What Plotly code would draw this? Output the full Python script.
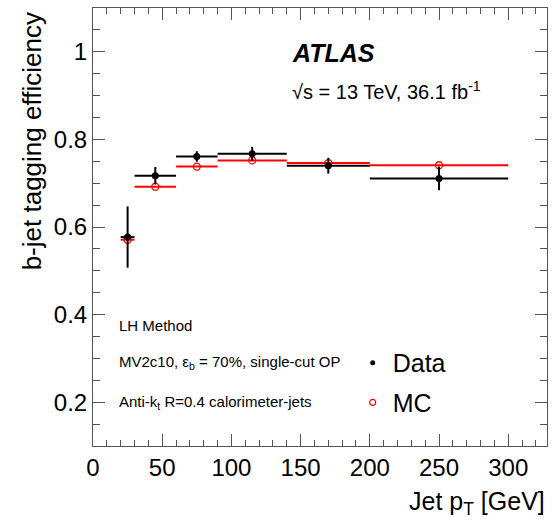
import plotly.graph_objects as go

# ---- data ----
bin_low = [20, 30, 60, 90, 140, 200]
bin_high = [30, 60, 90, 140, 200, 300]
data_eff = [0.577, 0.717, 0.761, 0.767, 0.740, 0.711]
data_err = [0.070, 0.020, 0.012, 0.016, 0.018, 0.027]
mc_eff = [0.571, 0.692, 0.738, 0.752, 0.746, 0.741]

x_ticks = [0, 50, 100, 150, 200, 250, 300]
y_ticks = [0.2, 0.4, 0.6, 0.8, 1.0]

centers = [(a + b) / 2 for a, b in zip(bin_low, bin_high)]
halfw = [(b - a) / 2 for a, b in zip(bin_low, bin_high)]

FONT = "Liberation Sans, Arial, Helvetica, sans-serif"

fig = go.Figure()

# MC
fig.add_trace(go.Scatter(
    x=centers, y=mc_eff, mode="markers", showlegend=False,
    marker=dict(symbol="circle-open", size=7, color="#ff0000", line=dict(width=1.3, color="#ff0000")),
    error_x=dict(type="data", array=halfw, thickness=2, width=0, color="#ff0000"),
))
# Data
fig.add_trace(go.Scatter(
    x=centers, y=data_eff, mode="markers", showlegend=False,
    marker=dict(symbol="circle", size=7, color="black"),
    error_x=dict(type="data", array=halfw, thickness=2, width=0, color="black"),
    error_y=dict(type="data", array=data_err, thickness=2, width=0, color="black"),
))
# legend entries
fig.add_trace(go.Scatter(x=[None], y=[None], mode="markers", name="Data",
                         marker=dict(symbol="circle", size=5, color="black"), legend="legend"))
fig.add_trace(go.Scatter(x=[None], y=[None], mode="markers", name="MC",
                         marker=dict(symbol="circle-open", size=6, color="#ff0000",
                                     line=dict(width=1.2, color="#ff0000")), legend="legend2"))

axis_common = dict(
    showgrid=False, zeroline=False, showline=True, linecolor="#555", linewidth=1,
    mirror="ticks", ticks="inside", tickcolor="#555", tickwidth=1, ticklen=12,
    tickfont=dict(family=FONT, size=24, color="black"),
)

fig.update_xaxes(range=[0, 328], tickvals=x_ticks,
                 minor=dict(dtick=10, tick0=0, ticks="inside", ticklen=6, tickcolor="#555", showgrid=False),
                 **axis_common)
fig.update_yaxes(range=[0.1, 1.1], tickvals=y_ticks,
                 minor=dict(dtick=0.05, tick0=0.1, ticks="inside", ticklen=7, tickcolor="#555", showgrid=False),
                 **axis_common)

leg_common = dict(font=dict(family=FONT, size=25, color="black"), bgcolor="rgba(0,0,0,0)",
                  xanchor="left", yanchor="middle", borderwidth=0)

fig.update_layout(
    width=552, height=521,
    margin=dict(l=93, r=5, t=8, b=75),
    plot_bgcolor="white", paper_bgcolor="white",
    font=dict(family=FONT, color="black"),
    legend=dict(x=0.572, y=0.1895, **leg_common),
    legend2=dict(x=0.572, y=0.099, **leg_common),
    annotations=[
        dict(text="b-jet tagging efficiency", textangle=-90, xref="paper", yref="paper",
             x=-0.135, y=0.994, xanchor="center", yanchor="top", showarrow=False,
             font=dict(family=FONT, size=26)),
        dict(text="Jet p<sub>T</sub> [GeV]", xref="paper", yref="paper",
             x=1.0, y=-0.09, xanchor="right", yanchor="top", showarrow=False,
             font=dict(family=FONT, size=25)),
        dict(text="<b><i>ATLAS</i></b>", xref="paper", yref="paper",
             x=0.434, y=0.897, xanchor="left", yanchor="middle", showarrow=False,
             font=dict(family=FONT, size=25)),
        dict(text="√s = 13 TeV, 36.1 fb<sup>-1</sup>", xref="paper", yref="paper",
             x=0.434, y=0.812, xanchor="left", yanchor="middle", showarrow=False,
             font=dict(family=FONT, size=20)),
        dict(text="LH Method", xref="paper", yref="paper",
             x=0.053, y=0.276, xanchor="left", yanchor="middle", showarrow=False,
             font=dict(family=FONT, size=15)),
        dict(text="MV2c10, ε<sub>b</sub> = 70%, single-cut OP", xref="paper", yref="paper",
             x=0.053, y=0.1895, xanchor="left", yanchor="middle", showarrow=False,
             font=dict(family=FONT, size=15)),
        dict(text="Anti-k<sub>t</sub> R=0.4 calorimeter-jets", xref="paper", yref="paper",
             x=0.053, y=0.099, xanchor="left", yanchor="middle", showarrow=False,
             font=dict(family=FONT, size=15)),
    ],
)

fig.write_html("out.html")
